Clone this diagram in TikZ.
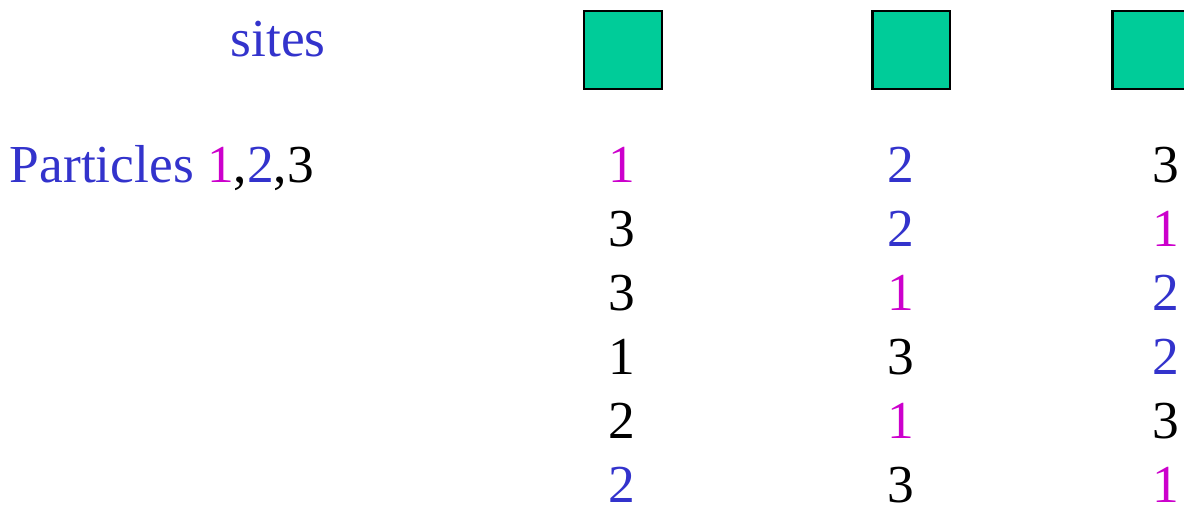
\documentclass[tikz,border=0pt]{standalone}
\usepackage{fontspec}
\IfFontExistsTF{LiberationSerif-Regular.ttf}
  {\setmainfont{LiberationSerif-Regular.ttf}}
  {\setmainfont{Liberation Serif}}
\usepackage{tikz}
\usetikzlibrary{positioning}
\usepackage{xcolor}
\definecolor{siteblue}{RGB}{51,51,204}
\definecolor{partmag}{RGB}{204,0,204}
\definecolor{sitegreen}{RGB}{0,204,153}
\newcommand{\bigfont}{\rmfamily\fontsize{38}{44}\selectfont}

\begin{document}
\begin{tikzpicture}[every node/.style={font=\bigfont},
  sitebox/.style={draw=black,fill=sitegreen,line width=1.8pt,minimum size=1.94cm,inner sep=0pt},
  particle/.style={inner sep=0pt,outer sep=0pt,text height=26pt,text depth=0pt}]
\useasboundingbox (0,0) rectangle (29.6,12.65);
% labels
\node[anchor=base,text=siteblue] (sites) at (6.95,11.225) {sites};
\node[anchor=base west,inner sep=0pt] (parts) at (0.24,8.075)
  {\textcolor{siteblue}{Particles }\textcolor{partmag}{1},\textcolor{siteblue}{2},3};
% the three sites
\node[sitebox] (site1) at (15.575,11.4) {};
\node[sitebox,right=5.2cm of site1] (site2) {};
\node[sitebox,right=4cm of site2] (site3) {};
% first arrangement
\node[particle,anchor=south,text=partmag] (r1c1) at (15.55,8.075) {1};
\node[particle,anchor=south,text=siteblue] (r1c2) at (22.525,8.075) {2};
\node[particle,anchor=south] (r1c3) at (29.15,8.075) {3};
% the other arrangements
\node[particle,below=0.686cm of r1c1] (r2c1) {3};
\node[particle,below=0.686cm of r1c2,text=siteblue] (r2c2) {2};
\node[particle,below=0.686cm of r1c3,text=partmag] (r2c3) {1};
\node[particle,below=0.686cm of r2c1] (r3c1) {3};
\node[particle,below=0.686cm of r2c2,text=partmag] (r3c2) {1};
\node[particle,below=0.686cm of r2c3,text=siteblue] (r3c3) {2};
\node[particle,below=0.686cm of r3c1] (r4c1) {1};
\node[particle,below=0.686cm of r3c2] (r4c2) {3};
\node[particle,below=0.686cm of r3c3,text=siteblue] (r4c3) {2};
\node[particle,below=0.686cm of r4c1] (r5c1) {2};
\node[particle,below=0.686cm of r4c2,text=partmag] (r5c2) {1};
\node[particle,below=0.686cm of r4c3] (r5c3) {3};
\node[particle,below=0.686cm of r5c1,text=siteblue] (r6c1) {2};
\node[particle,below=0.686cm of r5c2] (r6c2) {3};
\node[particle,below=0.686cm of r5c3,text=partmag] (r6c3) {1};
\end{tikzpicture}
\end{document}
